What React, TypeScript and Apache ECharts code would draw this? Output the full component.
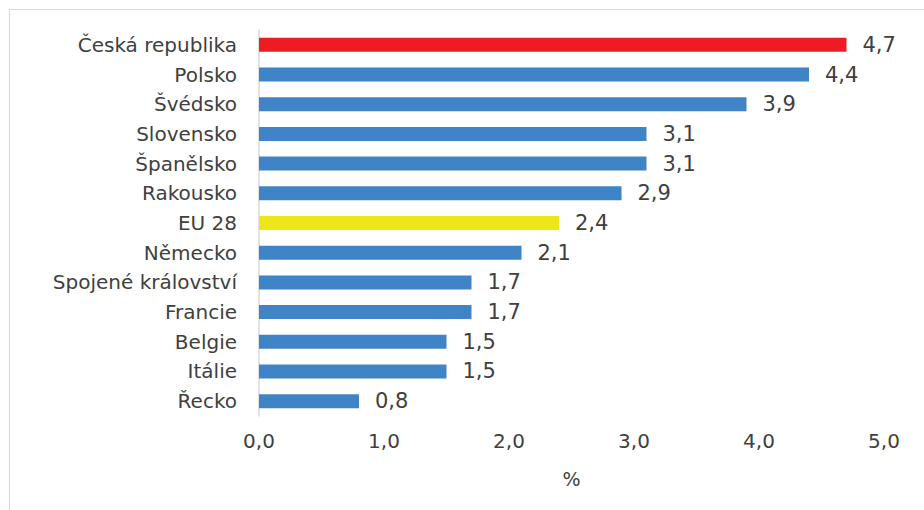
import React, { useEffect, useRef } from "react";
import * as echarts from "echarts";

const categories = [
  "Česká republika",
  "Polsko",
  "Švédsko",
  "Slovensko",
  "Španělsko",
  "Rakousko",
  "EU 28",
  "Německo",
  "Spojené království",
  "Francie",
  "Belgie",
  "Itálie",
  "Řecko",
];
const values = [4.7, 4.4, 3.9, 3.1, 3.1, 2.9, 2.4, 2.1, 1.7, 1.7, 1.5, 1.5, 0.8];
const xTicks = [0, 1, 2, 3, 4, 5];

const BLUE = "#3F84C6";
const RED = "#ED1C24";
const YELLOW = "#EDE619";
const TEXT = "#404040";
const FONT = "DejaVu Sans";

function colorFor(name: string) {
  if (name === "Česká republika") return RED;
  if (name === "EU 28") return YELLOW;
  return BLUE;
}

const fmt = (v: number) => v.toFixed(1).replace(".", ",");

export default function App() {
  const ref = useRef<HTMLDivElement>(null);
  useEffect(() => {
    if (!ref.current) return;
    const chart = echarts.init(ref.current, undefined, { renderer: "svg" });
    chart.setOption({
      animation: false,
      backgroundColor: "#ffffff",
      textStyle: { fontFamily: FONT },
      graphic: [
        {
          type: "rect",
          shape: { x: 9.5, y: 9.5, width: 1000, height: 1000 },
          style: { fill: "none", stroke: "#D9D9D9", lineWidth: 1 },
          silent: true,
        },
      ],
      grid: { left: 259, right: 40, top: 30, bottom: 94, containLabel: false },
      xAxis: {
        type: "value",
        min: xTicks[0],
        max: xTicks[xTicks.length - 1],
        interval: 1,
        axisLine: { show: false },
        axisTick: { show: false },
        splitLine: { show: false },
        axisLabel: {
          formatter: (v: number) => fmt(v),
          color: TEXT,
          fontSize: 20,
          fontFamily: FONT,
          margin: 15,
        },
        name: "%",
        nameLocation: "middle",
        nameGap: 53,
        nameTextStyle: { color: TEXT, fontSize: 19, fontFamily: FONT },
      },
      yAxis: {
        type: "category",
        inverse: true,
        data: categories,
        axisLine: { show: true, lineStyle: { color: "#D9D9D9", width: 1.5 } },
        axisTick: { show: false },
        axisLabel: { color: TEXT, fontSize: 20, fontFamily: FONT, margin: 22 },
      },
      series: [
        {
          type: "bar",
          barWidth: 14,
          data: values.map((v, i) => ({
            value: v,
            itemStyle: { color: colorFor(categories[i]) },
          })),
          label: {
            show: true,
            position: "right",
            distance: 16,
            color: TEXT,
            fontSize: 21,
            fontFamily: FONT,
            formatter: (p: any) => fmt(p.value),
          },
        },
      ],
    });
    return () => chart.dispose();
  }, []);
  return (
    <div
      ref={ref}
      style={{ position: "fixed", left: 0, top: 0, width: 924, height: 510 }}
    />
  );
}
